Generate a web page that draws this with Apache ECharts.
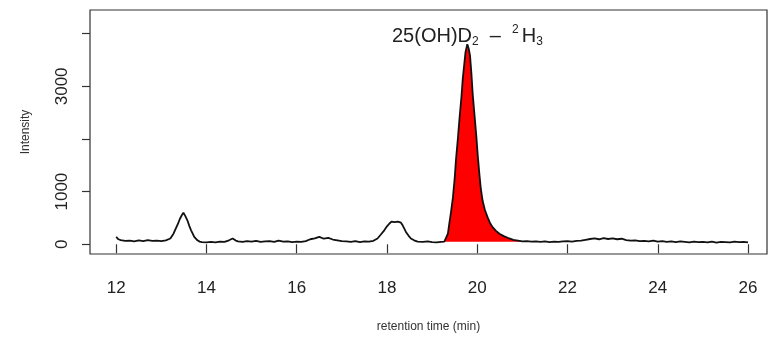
<!DOCTYPE html>
<html>
<head>
<meta charset="utf-8">
<script src="https://cdn.jsdelivr.net/npm/echarts@6/dist/echarts.min.js"></script>
<style>
  html, body { margin: 0; padding: 0; background: #fff; }
  #chart { width: 769px; height: 338px; }
</style>
</head>
<body>
<div id="chart"></div>
<script>
// retention time (min) and intensity
const times = [
  12.0, 12.05, 12.1, 12.2, 12.3, 12.4, 12.5, 12.6, 12.7, 12.8, 12.9, 13.0, 13.1, 13.2,
  13.27, 13.32, 13.37, 13.41, 13.46, 13.49, 13.53, 13.58, 13.62, 13.66, 13.73, 13.8, 13.85,
  13.9, 14.0, 14.1, 14.2, 14.3, 14.4, 14.5, 14.58, 14.65, 14.7, 14.8, 14.9, 15.0, 15.1,
  15.2, 15.3, 15.4, 15.5, 15.6, 15.7, 15.8, 15.9, 16.0, 16.1, 16.2, 16.3, 16.4, 16.5,
  16.6, 16.7, 16.8, 16.9, 17.0, 17.1, 17.2, 17.3, 17.4, 17.5, 17.6, 17.7, 17.79, 17.86,
  17.94, 18.0, 18.05, 18.1, 18.13, 18.17, 18.2, 18.24, 18.27, 18.31, 18.35, 18.42, 18.48,
  18.53, 18.6, 18.68, 18.8, 18.9, 19.0, 19.1, 19.2, 19.27, 19.31, 19.35, 19.38, 19.42,
  19.46, 19.5, 19.53, 19.57, 19.61, 19.65, 19.68, 19.71, 19.74, 19.78, 19.81, 19.84,
  19.87, 19.9, 19.94, 19.98, 20.01, 20.05, 20.08, 20.12, 20.17, 20.23, 20.28, 20.34,
  20.41, 20.49, 20.6, 20.71, 20.8, 20.9, 21.0, 21.1, 21.2, 21.3, 21.4, 21.5, 21.6, 21.7,
  21.8, 21.9, 22.0, 22.1, 22.2, 22.3, 22.4, 22.5, 22.6, 22.7, 22.8, 22.9, 23.0, 23.1,
  23.2, 23.3, 23.4, 23.5, 23.6, 23.7, 23.8, 23.9, 24.0, 24.1, 24.2, 24.3, 24.4, 24.5,
  24.6, 24.7, 24.8, 24.9, 25.0, 25.1, 25.2, 25.3, 25.4, 25.5, 25.6, 25.7, 25.8, 25.9, 26.0
];
const intensity = [
  140, 95, 80, 65, 70, 55, 75, 60, 80, 65, 70, 60, 75, 110,
  200, 295, 390, 480, 560, 600, 540, 450, 350, 265, 140, 75, 50,
  40, 35, 45, 35, 50, 45, 75, 110, 70, 55, 45, 60, 50, 65,
  45, 55, 60, 45, 70, 50, 55, 40, 50, 45, 60, 95, 110, 140,
  105, 120, 90, 75, 60, 55, 45, 60, 40, 55, 50, 65, 110, 180,
  265, 340, 390, 430, 450, 420, 390, 430, 450, 410, 355, 235, 160,
  110, 75, 50, 45, 55, 40, 35, 45, 50, 60, 200, 387, 620,
  880, 1250, 1620, 2000, 2420, 2800, 3150, 3400, 3650, 3800, 3720, 3585,
  3250, 2850, 2450, 2050, 1700, 1310, 1050, 820, 650, 510, 410, 325,
  260, 200, 150, 110, 85, 70, 55, 60, 50, 55, 45, 55, 40, 50,
  45, 55, 60, 50, 65, 70, 85, 100, 110, 95, 115, 100, 110, 95,
  105, 80, 70, 75, 60, 65, 55, 70, 50, 60, 45, 55, 40, 55,
  45, 35, 50, 40, 45, 35, 50, 30, 45, 40, 35, 50, 40, 45, 35
];
const xTicks = [12, 14, 16, 18, 20, 22, 24, 26];
const yTicks = [0, 1000, 2000, 3000, 4000];
const yTickLabels = [0, 1000, 3000];
const fillFrom = 19.27;
const fillTo = 21.0;

const trace = times.map((t, i) => [t, intensity[i]]);
const peakArea = trace.filter(p => p[0] >= fillFrom && p[0] <= fillTo);

const chart = echarts.init(document.getElementById('chart'));
const font = 'Liberation Sans, Arial, sans-serif';

chart.setOption({
  animation: false,
  textStyle: { fontFamily: font },
  grid: {
    left: 90, right: 2, top: 10, bottom: 77,
    show: true, borderColor: '#333', borderWidth: 1.2
  },
  title: {
    left: 387, top: 19,
    text: '{n|25(OH)D}{sub|2}{n|  –  }{sup|2}{n|H}{sub|3}',
    textStyle: {
      fontWeight: 'normal',
      rich: {
        n: { fontSize: 20, color: '#222', fontWeight: 'normal', fontFamily: font, lineHeight: 24 },
        sub: { fontSize: 12, color: '#222', fontWeight: 'normal', fontFamily: font, lineHeight: 13, verticalAlign: 'bottom' },
        sup: { fontSize: 12, color: '#222', fontWeight: 'normal', fontFamily: font, lineHeight: 13, verticalAlign: 'top', padding: [0, 3, 0, 0] }
      }
    }
  },
  xAxis: {
    type: 'value',
    min: 11.42,
    max: 26.42,
    name: 'retention time (min)',
    nameLocation: 'middle',
    nameGap: 67,
    nameTextStyle: { fontSize: 12, color: '#333' },
    splitLine: { show: false },
    axisLine: { show: false },
    axisTick: { show: true, inside: false, length: 9, customValues: xTicks, lineStyle: { color: '#333', width: 1.2 } },
    axisLabel: { customValues: xTicks, margin: 26, fontSize: 17, color: '#222' }
  },
  yAxis: {
    type: 'value',
    min: -185,
    max: 4450,
    name: 'Intensity',
    nameLocation: 'middle',
    nameRotate: 90,
    nameGap: 58,
    nameTextStyle: { fontSize: 12, color: '#333' },
    splitLine: { show: false },
    axisLine: { show: false },
    axisTick: { show: true, inside: false, length: 8, customValues: yTicks, lineStyle: { color: '#333', width: 1.2 } },
    axisLabel: {
      customValues: yTickLabels, rotate: 90, margin: 19, fontSize: 17, color: '#222',
      formatter: v => String(v)
    }
  },
  series: [
    {
      type: 'line',
      data: peakArea,
      showSymbol: false,
      lineStyle: { width: 0 },
      areaStyle: { color: '#ff0000', opacity: 1, origin: 50 },
      z: 1
    },
    {
      type: 'line',
      data: trace,
      showSymbol: false,
      lineStyle: { color: '#111', width: 1.8 },
      z: 2
    }
  ]
});
</script>
</body>
</html>
